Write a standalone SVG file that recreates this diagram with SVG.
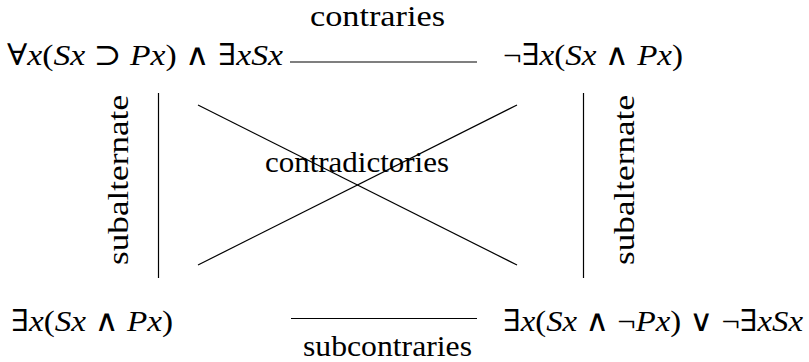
<svg xmlns="http://www.w3.org/2000/svg" width="809" height="362" viewBox="0 0 809 362">
<defs>
<style>
.l{stroke:#000;stroke-width:1.2;fill:none}
</style>
</defs>
<rect width="809" height="362" fill="#fff"/>
<g id="connectors">
<line class="l" x1="290" y1="62" x2="477" y2="62"/>
<line class="l" x1="291" y1="318.5" x2="477" y2="318.5"/>
<line class="l" x1="158.5" y1="93" x2="158.5" y2="278"/>
<line class="l" x1="583.5" y1="93" x2="583.5" y2="278"/>
<line class="l" x1="198" y1="105" x2="517" y2="265"/>
<line class="l" x1="198" y1="265" x2="517" y2="105"/>
</g>
<g id="labels" font-family="Liberation Serif, DejaVu Serif, serif" font-size="30" fill="#000">
<text x="310" y="26" textLength="135" lengthAdjust="spacingAndGlyphs">contraries</text>
<text x="303" y="356" textLength="169" lengthAdjust="spacingAndGlyphs">subcontraries</text>
<text x="265" y="172" textLength="184" lengthAdjust="spacingAndGlyphs">contradictories</text>
<text transform="translate(128,265) rotate(-90)" textLength="170" lengthAdjust="spacingAndGlyphs">subalternate</text>
<text transform="translate(634,265) rotate(-90)" textLength="170" lengthAdjust="spacingAndGlyphs">subalternate</text>
</g>
<g font-family="Liberation Serif, DejaVu Serif, serif" font-size="30" fill="#000">
<g id="A">
<text x="7" y="65" textLength="276" lengthAdjust="spacingAndGlyphs">∀<tspan font-style="italic">x</tspan>(<tspan font-style="italic">Sx</tspan> ⊃ <tspan font-style="italic">Px</tspan>) ∧ ∃<tspan font-style="italic">xSx</tspan></text>
</g>
<g id="E">
<text x="503" y="65" textLength="180" lengthAdjust="spacingAndGlyphs">¬∃<tspan font-style="italic">x</tspan>(<tspan font-style="italic">Sx</tspan> ∧ <tspan font-style="italic">Px</tspan>)</text>
</g>
<g id="I">
<text x="11" y="331" textLength="162" lengthAdjust="spacingAndGlyphs">∃<tspan font-style="italic">x</tspan>(<tspan font-style="italic">Sx</tspan> ∧ <tspan font-style="italic">Px</tspan>)</text>
</g>
<g id="O">
<text x="503" y="331" textLength="300" lengthAdjust="spacingAndGlyphs">∃<tspan font-style="italic">x</tspan>(<tspan font-style="italic">Sx</tspan> ∧ ¬<tspan font-style="italic">Px</tspan>) ∨ ¬∃<tspan font-style="italic">xSx</tspan></text>
</g>
</g>
</svg>
